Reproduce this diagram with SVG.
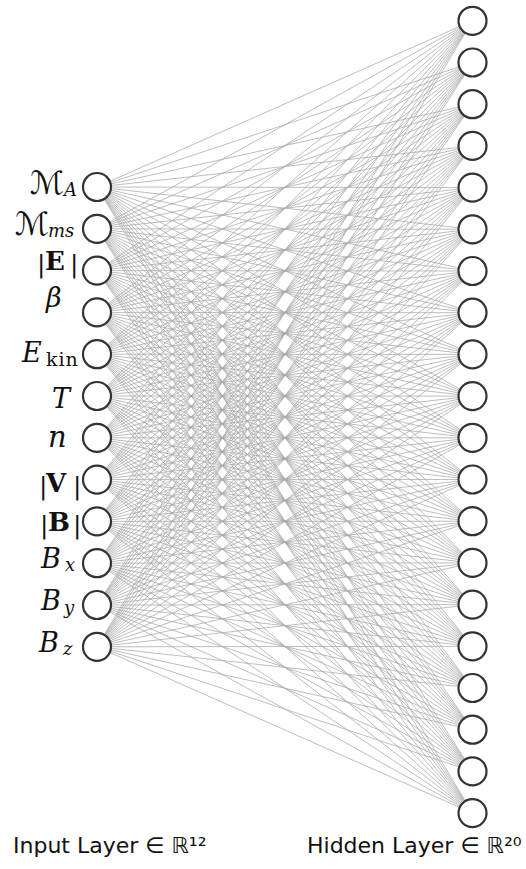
<svg xmlns="http://www.w3.org/2000/svg" width="526" height="869" viewBox="0 0 526 869">
<style>
.c path{stroke:#a8a8a8;stroke-width:0.75;fill:none}
.n{fill:#fff;stroke:#333;stroke-width:2.2}
.m{font-family:"DejaVu Serif","Liberation Serif",serif;font-size:27px;font-style:italic;fill:#111}
.u{font-family:"DejaVu Serif","Liberation Serif",serif;font-size:25px;fill:#111}
.b{font-family:"DejaVu Serif","Liberation Serif",serif;font-size:26px;font-weight:bold;fill:#111}
.s{font-family:"DejaVu Serif","Liberation Serif",serif;font-size:18px;font-style:italic;fill:#111}
.su{font-family:"DejaVu Serif","Liberation Serif",serif;font-size:19px;fill:#111;letter-spacing:1px}
.cal{font-family:"DejaVu Serif","DejaVu Sans",serif;font-size:32px;font-style:italic;fill:#111}
.t{font-family:"DejaVu Sans",sans-serif;font-size:22px;fill:#111}
</style>
<g id="connectors" class="c">
<path d="M97 187L472.5 20.8M97 187L472.5 62.5M97 187L472.5 104.2M97 187L472.5 145.9M97 187L472.5 187.6M97 187L472.5 229.3M97 187L472.5 271M97 187L472.5 312.7M97 187L472.5 354.4M97 187L472.5 396.1M97 187L472.5 437.8M97 187L472.5 479.5M97 187L472.5 521.2M97 187L472.5 562.9M97 187L472.5 604.6M97 187L472.5 646.3M97 187L472.5 688M97 187L472.5 729.7M97 187L472.5 771.4M97 187L472.5 813.1"/>
<path d="M97 228.8L472.5 20.8M97 228.8L472.5 62.5M97 228.8L472.5 104.2M97 228.8L472.5 145.9M97 228.8L472.5 187.6M97 228.8L472.5 229.3M97 228.8L472.5 271M97 228.8L472.5 312.7M97 228.8L472.5 354.4M97 228.8L472.5 396.1M97 228.8L472.5 437.8M97 228.8L472.5 479.5M97 228.8L472.5 521.2M97 228.8L472.5 562.9M97 228.8L472.5 604.6M97 228.8L472.5 646.3M97 228.8L472.5 688M97 228.8L472.5 729.7M97 228.8L472.5 771.4M97 228.8L472.5 813.1"/>
<path d="M97 270.6L472.5 20.8M97 270.6L472.5 62.5M97 270.6L472.5 104.2M97 270.6L472.5 145.9M97 270.6L472.5 187.6M97 270.6L472.5 229.3M97 270.6L472.5 271M97 270.6L472.5 312.7M97 270.6L472.5 354.4M97 270.6L472.5 396.1M97 270.6L472.5 437.8M97 270.6L472.5 479.5M97 270.6L472.5 521.2M97 270.6L472.5 562.9M97 270.6L472.5 604.6M97 270.6L472.5 646.3M97 270.6L472.5 688M97 270.6L472.5 729.7M97 270.6L472.5 771.4M97 270.6L472.5 813.1"/>
<path d="M97 312.4L472.5 20.8M97 312.4L472.5 62.5M97 312.4L472.5 104.2M97 312.4L472.5 145.9M97 312.4L472.5 187.6M97 312.4L472.5 229.3M97 312.4L472.5 271M97 312.4L472.5 312.7M97 312.4L472.5 354.4M97 312.4L472.5 396.1M97 312.4L472.5 437.8M97 312.4L472.5 479.5M97 312.4L472.5 521.2M97 312.4L472.5 562.9M97 312.4L472.5 604.6M97 312.4L472.5 646.3M97 312.4L472.5 688M97 312.4L472.5 729.7M97 312.4L472.5 771.4M97 312.4L472.5 813.1"/>
<path d="M97 354.2L472.5 20.8M97 354.2L472.5 62.5M97 354.2L472.5 104.2M97 354.2L472.5 145.9M97 354.2L472.5 187.6M97 354.2L472.5 229.3M97 354.2L472.5 271M97 354.2L472.5 312.7M97 354.2L472.5 354.4M97 354.2L472.5 396.1M97 354.2L472.5 437.8M97 354.2L472.5 479.5M97 354.2L472.5 521.2M97 354.2L472.5 562.9M97 354.2L472.5 604.6M97 354.2L472.5 646.3M97 354.2L472.5 688M97 354.2L472.5 729.7M97 354.2L472.5 771.4M97 354.2L472.5 813.1"/>
<path d="M97 396L472.5 20.8M97 396L472.5 62.5M97 396L472.5 104.2M97 396L472.5 145.9M97 396L472.5 187.6M97 396L472.5 229.3M97 396L472.5 271M97 396L472.5 312.7M97 396L472.5 354.4M97 396L472.5 396.1M97 396L472.5 437.8M97 396L472.5 479.5M97 396L472.5 521.2M97 396L472.5 562.9M97 396L472.5 604.6M97 396L472.5 646.3M97 396L472.5 688M97 396L472.5 729.7M97 396L472.5 771.4M97 396L472.5 813.1"/>
<path d="M97 437.8L472.5 20.8M97 437.8L472.5 62.5M97 437.8L472.5 104.2M97 437.8L472.5 145.9M97 437.8L472.5 187.6M97 437.8L472.5 229.3M97 437.8L472.5 271M97 437.8L472.5 312.7M97 437.8L472.5 354.4M97 437.8L472.5 396.1M97 437.8L472.5 437.8M97 437.8L472.5 479.5M97 437.8L472.5 521.2M97 437.8L472.5 562.9M97 437.8L472.5 604.6M97 437.8L472.5 646.3M97 437.8L472.5 688M97 437.8L472.5 729.7M97 437.8L472.5 771.4M97 437.8L472.5 813.1"/>
<path d="M97 479.6L472.5 20.8M97 479.6L472.5 62.5M97 479.6L472.5 104.2M97 479.6L472.5 145.9M97 479.6L472.5 187.6M97 479.6L472.5 229.3M97 479.6L472.5 271M97 479.6L472.5 312.7M97 479.6L472.5 354.4M97 479.6L472.5 396.1M97 479.6L472.5 437.8M97 479.6L472.5 479.5M97 479.6L472.5 521.2M97 479.6L472.5 562.9M97 479.6L472.5 604.6M97 479.6L472.5 646.3M97 479.6L472.5 688M97 479.6L472.5 729.7M97 479.6L472.5 771.4M97 479.6L472.5 813.1"/>
<path d="M97 521.4L472.5 20.8M97 521.4L472.5 62.5M97 521.4L472.5 104.2M97 521.4L472.5 145.9M97 521.4L472.5 187.6M97 521.4L472.5 229.3M97 521.4L472.5 271M97 521.4L472.5 312.7M97 521.4L472.5 354.4M97 521.4L472.5 396.1M97 521.4L472.5 437.8M97 521.4L472.5 479.5M97 521.4L472.5 521.2M97 521.4L472.5 562.9M97 521.4L472.5 604.6M97 521.4L472.5 646.3M97 521.4L472.5 688M97 521.4L472.5 729.7M97 521.4L472.5 771.4M97 521.4L472.5 813.1"/>
<path d="M97 563.2L472.5 20.8M97 563.2L472.5 62.5M97 563.2L472.5 104.2M97 563.2L472.5 145.9M97 563.2L472.5 187.6M97 563.2L472.5 229.3M97 563.2L472.5 271M97 563.2L472.5 312.7M97 563.2L472.5 354.4M97 563.2L472.5 396.1M97 563.2L472.5 437.8M97 563.2L472.5 479.5M97 563.2L472.5 521.2M97 563.2L472.5 562.9M97 563.2L472.5 604.6M97 563.2L472.5 646.3M97 563.2L472.5 688M97 563.2L472.5 729.7M97 563.2L472.5 771.4M97 563.2L472.5 813.1"/>
<path d="M97 605L472.5 20.8M97 605L472.5 62.5M97 605L472.5 104.2M97 605L472.5 145.9M97 605L472.5 187.6M97 605L472.5 229.3M97 605L472.5 271M97 605L472.5 312.7M97 605L472.5 354.4M97 605L472.5 396.1M97 605L472.5 437.8M97 605L472.5 479.5M97 605L472.5 521.2M97 605L472.5 562.9M97 605L472.5 604.6M97 605L472.5 646.3M97 605L472.5 688M97 605L472.5 729.7M97 605L472.5 771.4M97 605L472.5 813.1"/>
<path d="M97 646.8L472.5 20.8M97 646.8L472.5 62.5M97 646.8L472.5 104.2M97 646.8L472.5 145.9M97 646.8L472.5 187.6M97 646.8L472.5 229.3M97 646.8L472.5 271M97 646.8L472.5 312.7M97 646.8L472.5 354.4M97 646.8L472.5 396.1M97 646.8L472.5 437.8M97 646.8L472.5 479.5M97 646.8L472.5 521.2M97 646.8L472.5 562.9M97 646.8L472.5 604.6M97 646.8L472.5 646.3M97 646.8L472.5 688M97 646.8L472.5 729.7M97 646.8L472.5 771.4M97 646.8L472.5 813.1"/>
</g>
<g id="input-nodes">
<g id="in1"><circle class="n" cx="97" cy="187" r="14"/><text class="cal" x="30" y="194">ℳ</text><text class="s" x="64" y="196">A</text></g>
<g id="in2"><circle class="n" cx="97" cy="228.8" r="14"/><text class="cal" x="15" y="235">ℳ</text><text class="s" x="48" y="237">ms</text></g>
<g id="in3"><circle class="n" cx="97" cy="270.6" r="14"/><text class="u" x="37" y="272">|</text><text class="b" x="45" y="270">E</text><text class="u" x="70" y="272">|</text></g>
<g id="in4"><circle class="n" cx="97" cy="312.4" r="14"/><text class="m" x="46" y="307">β</text></g>
<g id="in5"><circle class="n" cx="97" cy="354.2" r="14"/><text class="m" x="22" y="362">E</text><text class="su" x="46" y="366">kin</text></g>
<g id="in6"><circle class="n" cx="97" cy="396" r="14"/><text class="m" x="52" y="408">T</text></g>
<g id="in7"><circle class="n" cx="97" cy="437.8" r="14"/><text class="m" x="48" y="447" style="font-size:29px">n</text></g>
<g id="in8"><circle class="n" cx="97" cy="479.6" r="14"/><text class="u" x="39" y="494">|</text><text class="b" x="46" y="492">V</text><text class="u" x="73" y="494">|</text></g>
<g id="in9"><circle class="n" cx="97" cy="521.4" r="14"/><text class="u" x="40" y="533">|</text><text class="b" x="48" y="531">B</text><text class="u" x="73" y="533">|</text></g>
<g id="in10"><circle class="n" cx="97" cy="563.2" r="14"/><text class="m" x="41" y="568">B</text><text class="s" x="65" y="571">x</text></g>
<g id="in11"><circle class="n" cx="97" cy="605" r="14"/><text class="m" x="41" y="610">B</text><text class="s" x="64" y="614">y</text></g>
<g id="in12"><circle class="n" cx="97" cy="646.8" r="14"/><text class="m" x="39" y="652">B</text><text class="s" x="63" y="655">z</text></g>
</g>
<g id="hidden-nodes">
<circle id="h1" class="n" cx="472.5" cy="20.8" r="14"/>
<circle id="h2" class="n" cx="472.5" cy="62.5" r="14"/>
<circle id="h3" class="n" cx="472.5" cy="104.2" r="14"/>
<circle id="h4" class="n" cx="472.5" cy="145.9" r="14"/>
<circle id="h5" class="n" cx="472.5" cy="187.6" r="14"/>
<circle id="h6" class="n" cx="472.5" cy="229.3" r="14"/>
<circle id="h7" class="n" cx="472.5" cy="271" r="14"/>
<circle id="h8" class="n" cx="472.5" cy="312.7" r="14"/>
<circle id="h9" class="n" cx="472.5" cy="354.4" r="14"/>
<circle id="h10" class="n" cx="472.5" cy="396.1" r="14"/>
<circle id="h11" class="n" cx="472.5" cy="437.8" r="14"/>
<circle id="h12" class="n" cx="472.5" cy="479.5" r="14"/>
<circle id="h13" class="n" cx="472.5" cy="521.2" r="14"/>
<circle id="h14" class="n" cx="472.5" cy="562.9" r="14"/>
<circle id="h15" class="n" cx="472.5" cy="604.6" r="14"/>
<circle id="h16" class="n" cx="472.5" cy="646.3" r="14"/>
<circle id="h17" class="n" cx="472.5" cy="688" r="14"/>
<circle id="h18" class="n" cx="472.5" cy="729.7" r="14"/>
<circle id="h19" class="n" cx="472.5" cy="771.4" r="14"/>
<circle id="h20" class="n" cx="472.5" cy="813.1" r="14"/>
</g>
<g id="layer-labels">
<text class="t" x="13" y="853">Input Layer ∈ ℝ¹²</text>
<text class="t" x="307" y="853">Hidden Layer ∈ ℝ²⁰</text>
</g>
</svg>
